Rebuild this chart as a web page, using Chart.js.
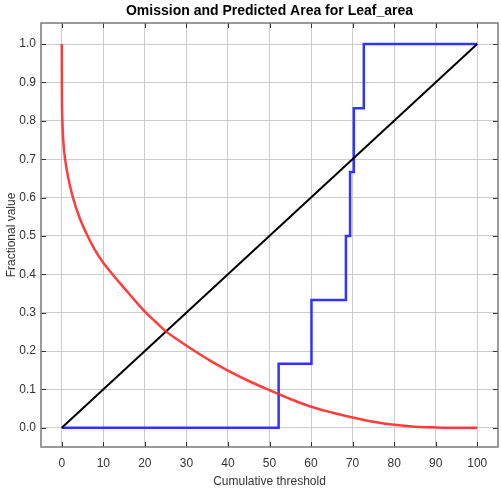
<!DOCTYPE html>
<html>
<head>
<meta charset="utf-8">
<script src="https://cdn.jsdelivr.net/npm/chart.js@4/dist/chart.umd.min.js"></script>
<style>
  html, body { margin: 0; padding: 0; background: #fff; }
  #wrap { width: 501px; height: 491px; position: relative; }
</style>
</head>
<body>
<div id="wrap"><canvas id="c" width="501" height="491"></canvas></div>
<script>
const titleText = "Omission and Predicted Area for Leaf_area";
const xTitle = "Cumulative threshold";
const yTitle = "Fractional value";
const xTicks = [0, 10, 20, 30, 40, 50, 60, 70, 80, 90, 100];
const yTicks = [0, 0.1, 0.2, 0.3, 0.4, 0.5, 0.6, 0.7, 0.8, 0.9, 1.0];

// Omission on samples (stepped)
const omissionX = [0, 52.2, 60.1, 68.4, 69.4, 70.3, 72.7, 100];
const omissionY = [0, 0.167, 0.333, 0.5, 0.667, 0.833, 1.0, 1.0];

// Fraction of background predicted
const areaX = [0, 0.05, 0.15, 0.35, 0.8, 1.6, 2.7, 4.2, 6, 8, 10, 12, 14, 16, 18, 20, 22.5, 25, 28.5, 32, 36, 40, 45, 50, 55, 60, 65, 70, 75, 80, 85, 90, 95, 100];
const areaY = [1.0, 0.86, 0.80, 0.75, 0.70, 0.65, 0.60, 0.55, 0.505, 0.463, 0.430, 0.403, 0.377, 0.352, 0.327, 0.303, 0.277, 0.252, 0.225, 0.200, 0.173, 0.149, 0.122, 0.098, 0.075, 0.055, 0.040, 0.027, 0.016, 0.008, 0.003, 0.001, 0, 0];

// Predicted omission (diagonal)
const diagX = [0, 100];
const diagY = [0, 1];

const zip = (xs, ys) => xs.map((x, i) => ({x: x, y: ys[i]}));

const FONT = '"Liberation Sans", Arial, sans-serif';

const framePlugin = {
  id: 'frame',
  afterDraw(chart) {
    const ctx = chart.ctx;
    const a = chart.chartArea;
    const xs = chart.scales.x, ys = chart.scales.y;
    ctx.save();
    ctx.strokeStyle = '#333';
    ctx.lineWidth = 1;
    ctx.beginPath();
    xTicks.forEach(v => {
      const px = Math.round(xs.getPixelForValue(v)) + 0.5;
      ctx.moveTo(px, a.bottom); ctx.lineTo(px, a.bottom - 5);
      ctx.moveTo(px, a.top); ctx.lineTo(px, a.top + 5);
    });
    yTicks.forEach(v => {
      const py = Math.round(ys.getPixelForValue(v)) + 0.5;
      ctx.moveTo(a.left, py); ctx.lineTo(a.left + 5, py);
      ctx.moveTo(a.right, py); ctx.lineTo(a.right - 5, py);
    });
    ctx.stroke();
    ctx.strokeStyle = '#7a7a7a';
    ctx.lineWidth = 1.5;
    ctx.strokeRect(a.left, a.top, a.right - a.left, a.bottom - a.top);
    ctx.fillStyle = '#000';
    ctx.font = 'bold 14px ' + FONT;
    ctx.textAlign = 'center';
    ctx.textBaseline = 'middle';
    ctx.fillText(titleText, (a.left + a.right) / 2, 11);
    ctx.restore();
  }
};

new Chart(document.getElementById('c'), {
  type: 'line',
  data: {
    datasets: [
      {
        label: 'Fraction of background predicted',
        data: zip(areaX, areaY),
        borderColor: 'rgba(255,40,40,0.9)',
        borderWidth: 2.5,
        pointRadius: 0,
        cubicInterpolationMode: 'monotone',
        fill: false
      },
      {
        label: 'Predicted omission',
        data: zip(diagX, diagY),
        borderColor: '#000',
        borderWidth: 2,
        pointRadius: 0,
        fill: false
      },
      {
        label: 'Omission',
        data: zip(omissionX, omissionY),
        borderColor: 'rgba(40,40,255,0.95)',
        borderWidth: 2.5,
        pointRadius: 0,
        stepped: 'before',
        fill: false
      }
    ]
  },
  options: {
    responsive: false,
    animation: false,
    devicePixelRatio: 1,
    layout: { padding: { top: 23, right: 3, left: 0, bottom: 0 } },
    plugins: {
      legend: { display: false },
      tooltip: { enabled: false },
      title: { display: false }
    },
    scales: {
      x: {
        type: 'linear',
        min: -5,
        max: 105,
        afterBuildTicks: s => { s.ticks = xTicks.map(v => ({value: v})); },
        afterFit: s => { s.height = 44; },
        grid: { color: '#cccccc', lineWidth: 1, drawTicks: false },
        border: { display: false },
        ticks: {
          color: '#333',
          font: { family: FONT, size: 12 },
          padding: 9,
          maxRotation: 0,
          callback: v => String(v)
        },
        title: {
          display: true,
          text: xTitle,
          color: '#333',
          font: { family: FONT, size: 12 },
          padding: { top: 0, bottom: 2 }
        }
      },
      y: {
        type: 'linear',
        min: -0.05,
        max: 1.055,
        afterBuildTicks: s => { s.ticks = yTicks.map(v => ({value: v})); },
        afterFit: s => { s.width = 41; },
        grid: { color: '#cccccc', lineWidth: 1, drawTicks: false },
        border: { display: false },
        ticks: {
          color: '#333',
          font: { family: FONT, size: 12 },
          padding: 5,
          callback: v => Number(v).toFixed(1)
        },
        title: {
          display: true,
          text: yTitle,
          color: '#333',
          font: { family: FONT, size: 12 },
          padding: { top: 4, bottom: 0 }
        }
      }
    }
  },
  plugins: [framePlugin]
});
</script>
</body>
</html>
